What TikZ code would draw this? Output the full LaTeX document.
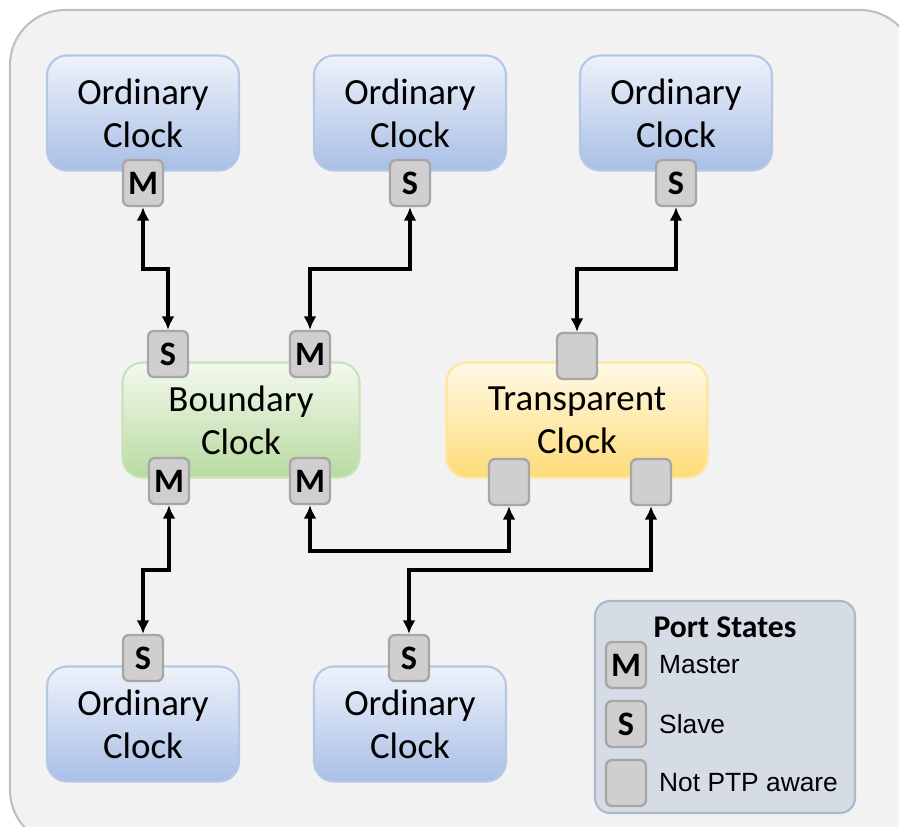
\documentclass[tikz,border=0pt]{standalone}
\usepackage{fontspec}
\setmainfont{Carlito}
\newfontfamily\legendfont{Liberation Sans}
\usetikzlibrary{arrows.meta, positioning, calc}

\definecolor{bgfill}{HTML}{F2F2F2}
\definecolor{bgline}{HTML}{BFBFBF}
\definecolor{octop}{HTML}{EEF2FA}
\definecolor{ocbot}{HTML}{A9BFE6}
\definecolor{ocline}{HTML}{B4C7E7}
\definecolor{bctop}{HTML}{F3F9EE}
\definecolor{bcbot}{HTML}{B8DAA0}
\definecolor{bcline}{HTML}{C9E2B8}
\definecolor{tctop}{HTML}{FFF9E6}
\definecolor{tcbot}{HTML}{FFDC79}
\definecolor{tcline}{HTML}{FFE699}
\definecolor{portfill}{HTML}{D0CECE}
\definecolor{portline}{HTML}{A6A6A6}
\definecolor{legfill}{HTML}{D6DCE5}
\definecolor{legline}{HTML}{ADB9CA}

\begin{document}
\begin{tikzpicture}[
    x=0.02cm, y=-0.02cm,
    clockbox/.style={rounded corners=0.4cm, line width=1.2pt, minimum height=2.3cm,
      align=center, font=\fontsize{21}{24.5}\selectfont, shading=axis},
    ocbox/.style={clockbox, draw=ocline, top color=octop, bottom color=ocbot, minimum width=3.84cm},
    bcbox/.style={clockbox, draw=bcline, top color=bctop, bottom color=bcbot, minimum width=4.74cm},
    tcbox/.style={clockbox, draw=tcline, top color=tctop, bottom color=tcbot, minimum width=5.22cm},
    port/.style={draw=portline, fill=portfill, line width=1.3pt, rounded corners=0.12cm,
      minimum width=0.8cm, minimum height=0.92cm, inner sep=0pt,
      font=\bfseries\fontsize{19.5}{22}\selectfont},
    link/.style={{Latex[length=0.27cm,width=0.26cm]}-{Latex[length=0.27cm,width=0.26cm]}, line width=2.2pt},
    legtext/.style={anchor=west, font=\legendfont\fontsize{15}{18}\selectfont}
  ]
    \useasboundingbox (0,0) rectangle (899,827);
    \draw[fill=bgfill, draw=bgline, line width=1.2pt, rounded corners=1.1cm] (10,10) rectangle (915,845);

    % clocks
    \node[ocbox] (ocA) at (143,113) {Ordinary\\Clock};
    \node[ocbox] (ocB) at (410,113) {Ordinary\\Clock};
    \node[ocbox] (ocC) at (676,113) {Ordinary\\Clock};
    \node[bcbox] (bc) at (241,420) {Boundary\\Clock};
    \node[tcbox] (tc) at (577,420) {Transparent\\Clock};
    \node[ocbox] (ocD) at (143,724) {Ordinary\\Clock};
    \node[ocbox] (ocE) at (410,724) {Ordinary\\Clock};

    % ports
    \node[port] (ocAp) at (143,183) {M};
    \node[port] (ocBp) at (410,183) {S};
    \node[port] (ocCp) at (676,183) {S};
    \node[port] (bcS) at (168,354) {S};
    \node[port] (bcM) at (310,354) {M};
    \node[port] (bcMa) at (169,481) {M};
    \node[port] (bcMb) at (310,481) {M};
    \node[port] (tcT) at (577,356) {};
    \node[port] (tcA) at (509,482) {};
    \node[port] (tcB) at (651,482) {};
    \node[port] (ocDp) at (143,658) {S};
    \node[port] (ocEp) at (409,658) {S};

    % bend levels
    \coordinate (upper) at (0,269);
    \coordinate (midA) at (0,551);
    \coordinate (midB) at (0,570);

    \draw[link] (ocAp.south) -- (ocAp.south |- upper) -| (bcS.north);
    \draw[link] (ocBp.south) -- (ocBp.south |- upper) -| (bcM.north);
    \draw[link] (ocCp.south) -- (ocCp.south |- upper) -| (tcT.north);
    \draw[link] (bcMa.south) -- (bcMa.south |- midB) -| (ocDp.north);
    \draw[link] (bcMb.south) -- (bcMb.south |- midA) -| (tcA.south);
    \draw[link] (tcB.south) -- (tcB.south |- midB) -| (ocEp.north);

    % legend
    \node[draw=legline, fill=legfill, line width=1.2pt, rounded corners=0.3cm,
      minimum width=5.2cm, minimum height=4.24cm] (legend) at (725,707) {};
    \node[font=\bfseries\fontsize{18}{20}\selectfont] (legtitle) at (725,627) {Port States};
    \node[port] (legM) at (626,665) {M};
    \node[port] (legS) at (626,724) {S};
    \node[port] (legN) at (626,783) {};
    \node[legtext] (legMt) at (653,665) {Master};
    \node[legtext] (legSt) at (653,724) {Slave};
    \node[legtext] (legNt) at (653,783) {Not PTP aware};
\end{tikzpicture}
\end{document}
